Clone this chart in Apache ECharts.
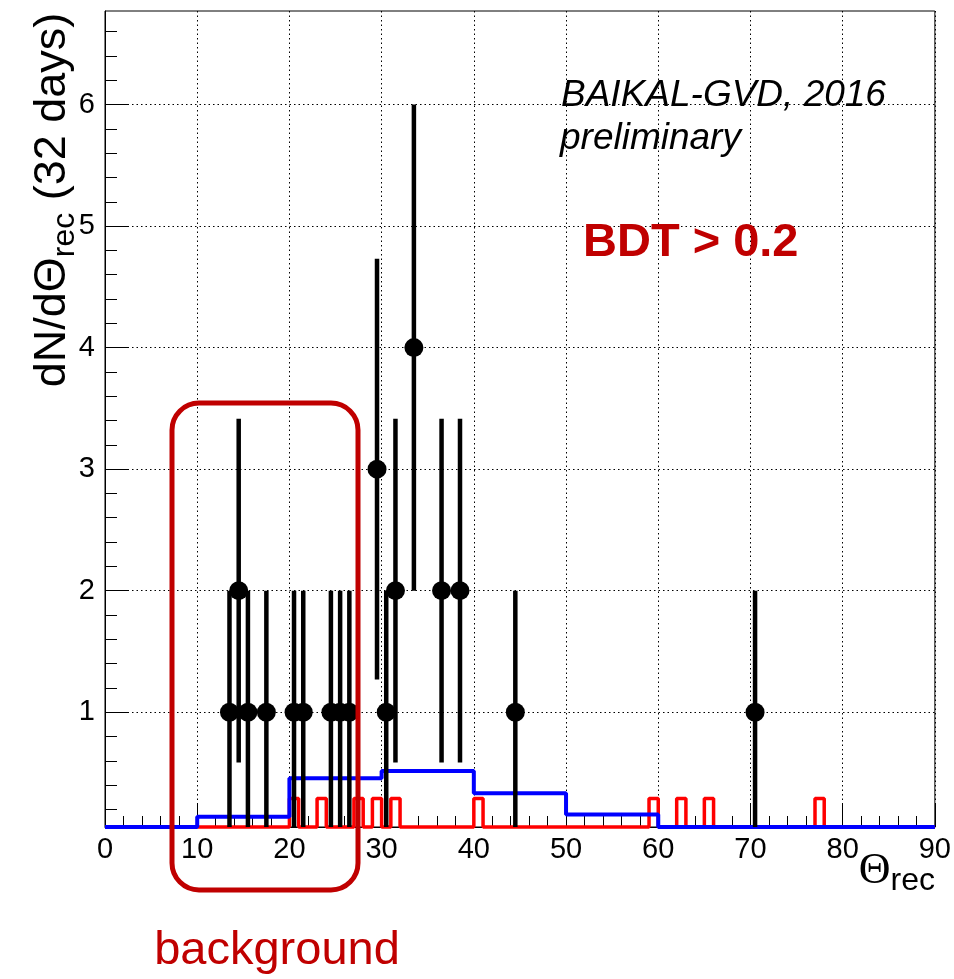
<!DOCTYPE html>
<html>
<head>
<meta charset="utf-8">
<script src="https://cdn.jsdelivr.net/npm/echarts@6/dist/echarts.min.js"></script>
<style>
html,body{margin:0;padding:0;background:#fff;}
#chart{width:954px;height:979px;}
</style>
</head>
<body>
<div id="chart"></div>
<script>
// ---- data ----
const pointTheta  = [13.5, 14.5, 15.5, 17.5, 20.5, 21.5, 24.5, 25.5, 26.5, 29.5, 30.5, 31.5, 33.5, 36.5, 38.5, 44.5, 70.5];
const pointCounts = [1, 2, 1, 1, 1, 1, 1, 1, 1, 3, 1, 2, 4, 2, 2, 1, 1];
const pointErrors = [1, 1.414, 1, 1, 1, 1, 1, 1, 1, 1.732, 1, 1.414, 2, 1.414, 1.414, 1, 1];

const blueEdges  = [0, 10, 20, 30, 40, 50, 60, 70, 80, 90];
const blueValues = [0, 0.14, 0.457, 0.515, 0.333, 0.157, 0, 0, 0];

const redRange      = [10, 90];
const redPeakStarts = [20, 23, 27, 29, 31, 40, 59, 62, 65, 77];
const redPeakWidth  = 1;
const redPeakValue  = 0.29;

const xTickValues  = [0, 10, 20, 30, 40, 50, 60, 70, 80, 90];
const yTickValues  = [1, 2, 3, 4, 5, 6];
const yMinorValues = [0.2, 0.4, 0.6, 0.8, 1.2, 1.4, 1.6, 1.8, 2.2, 2.4, 2.6, 2.8, 3.2, 3.4, 3.6, 3.8,
                      4.2, 4.4, 4.6, 4.8, 5.2, 5.4, 5.6, 5.8, 6.2, 6.4, 6.6];
const Y_MIN = 0.055, Y_MAX = 6.77;

// ---- build series data ----
function stepLine(edges, values) {
  const pts = [];
  for (let i = 0; i < values.length; i++) {
    const v = Math.max(values[i], Y_MIN);
    pts.push([edges[i], v], [edges[i + 1], v]);
  }
  return pts;
}
const redEdges = [redRange[0]], redVals = [];
redPeakStarts.forEach(s => {
  redVals.push(0); redEdges.push(s);
  redVals.push(redPeakValue); redEdges.push(s + redPeakWidth);
});
redVals.push(0); redEdges.push(redRange[1]);

const pointData = pointTheta.map((x, i) => [x, pointCounts[i], pointErrors[i]]);

const FONT = '"Liberation Sans", Arial, Helvetica, sans-serif';
const chart = echarts.init(document.getElementById('chart'), null, {renderer: 'canvas'});
chart.setOption({
  animation: false,
  backgroundColor: '#fff',
  grid: {left: 105, right: 18, top: 11, bottom: 152, show: true, borderColor: '#000', borderWidth: 1, backgroundColor: 'transparent'},
  xAxis: {
    type: 'value', min: 0, max: 90, interval: 10,
    axisLine: {show: true, onZero: false, lineStyle: {color: '#000', width: 1}},
    axisTick: {show: true, inside: true, length: 23, lineStyle: {color: '#000', width: 1}},
    minorTick: {show: true, splitNumber: 5, length: 11, lineStyle: {color: '#000', width: 1}},
    axisLabel: {color: '#000', fontSize: 29, fontFamily: FONT, margin: 8,
                customValues: xTickValues, formatter: v => String(v)},
    splitLine: {show: true, lineStyle: {color: '#000', width: 1, type: [1.5, 3]}}
  },
  yAxis: [{
    type: 'value', min: Y_MIN, max: Y_MAX,
    axisLine: {show: true, onZero: false, lineStyle: {color: '#000', width: 1}},
    axisTick: {show: true, inside: true, length: 24, customValues: yTickValues, lineStyle: {color: '#000', width: 1}},
    minorTick: {show: false},
    axisLabel: {color: '#000', fontSize: 29, fontFamily: FONT, margin: 10, customValues: yTickValues,
                formatter: v => String(Math.round(v))},
    splitLine: {show: true, lineStyle: {color: '#000', width: 1, type: [1.5, 3]}}
  }, {
    type: 'value', min: Y_MIN, max: Y_MAX, position: 'left',
    axisLine: {show: false},
    axisTick: {show: true, inside: true, length: 12, customValues: yMinorValues, lineStyle: {color: '#000', width: 1}},
    axisLabel: {show: false},
    splitLine: {show: false}
  }],
  series: [
    {type: 'line', data: stepLine(redEdges, redVals), showSymbol: false, clip: false,
     lineStyle: {color: '#ff0000', width: 3.5}, z: 2},
    {type: 'line', data: stepLine(blueEdges, blueValues), showSymbol: false, clip: false,
     lineStyle: {color: '#0000ff', width: 4}, z: 3},
    {type: 'custom', data: pointData, z: 4, clip: false,
     renderItem: function (params, api) {
       const x = api.value(0), y = api.value(1), e = api.value(2);
       const lo = api.coord([x, Math.max(y - e, Y_MIN)]);
       const hi = api.coord([x, Math.min(y + e, Y_MAX)]);
       return {type: 'line', shape: {x1: lo[0], y1: lo[1], x2: hi[0], y2: hi[1]},
               style: {stroke: '#000', lineWidth: 4.5}};
     }},
    {type: 'scatter', data: pointData.map(d => [d[0], d[1]]), symbol: 'circle', symbolSize: 19,
     itemStyle: {color: '#000', opacity: 1}, z: 5}
  ],
  graphic: [
    {type: 'rect', z: 100, shape: {x: 172, y: 403, width: 186, height: 487, r: 27},
     style: {fill: 'none', stroke: '#c00000', lineWidth: 5}},
    {type: 'text', z: 100, x: 561, y: 96,
     style: {text: 'BAIKAL-GVD, 2016', font: 'italic 37px ' + FONT, fill: '#000', align: 'left', verticalAlign: 'middle'}},
    {type: 'text', z: 100, x: 560, y: 139,
     style: {text: 'preliminary', font: 'italic 37px ' + FONT, fill: '#000', align: 'left', verticalAlign: 'middle'}},
    {type: 'text', z: 100, x: 583, y: 243,
     style: {text: 'BDT > 0.2', font: 'bold 47px ' + FONT, fill: '#c00000', align: 'left', verticalAlign: 'middle'}},
    {type: 'text', z: 100, x: 277, y: 951,
     style: {text: 'background', font: '47px ' + FONT, fill: '#c00000', align: 'center', verticalAlign: 'middle'}},
    {type: 'text', z: 100, x: 53, y: 200, rotation: Math.PI / 2,
     style: {text: '{m|dN/dΘ}{s|rec}{m| (32 days)}', align: 'center', verticalAlign: 'middle',
             rich: {m: {fontSize: 45, fontFamily: FONT, fill: '#000', lineHeight: 56},
                    s: {fontSize: 32, fontFamily: FONT, fill: '#000', lineHeight: 24, verticalAlign: 'bottom'}}}},
    {type: 'text', z: 100, x: 935, y: 871,
     style: {text: '{t|Θ}{s|rec}', align: 'right', verticalAlign: 'middle',
             rich: {t: {fontSize: 44, fontFamily: '"Liberation Serif", "Times New Roman", serif', fill: '#000', lineHeight: 52},
                    s: {fontSize: 32, fontFamily: FONT, fill: '#000', lineHeight: 22, verticalAlign: 'bottom'}}}}
  ]
});
</script>
</body>
</html>
